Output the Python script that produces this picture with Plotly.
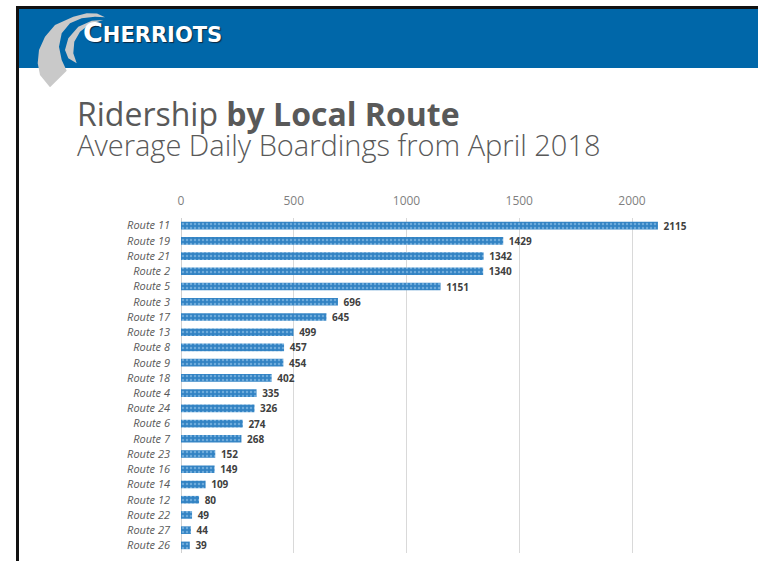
import plotly.graph_objects as go

routes = ["Route 11", "Route 19", "Route 21", "Route 2", "Route 5", "Route 3", "Route 17",
          "Route 13", "Route 8", "Route 9", "Route 18", "Route 4", "Route 24", "Route 6",
          "Route 7", "Route 23", "Route 16", "Route 14", "Route 12", "Route 22", "Route 27",
          "Route 26"]
boardings = [2115, 1429, 1342, 1340, 1151, 696, 645, 499, 457, 454, 402, 335, 326, 274,
             268, 152, 149, 109, 80, 49, 44, 39]
x_ticks = [0, 500, 1000, 1500, 2000]

W, H = 758, 561
L, R, T, B = 181, 58, 218, 8
PW, PH = W - L - R, H - T - B


def fx(px):
    return (px - L) / PW


def fy(py):
    return (H - B - py) / PH


fig = go.Figure()
fig.add_trace(go.Bar(
    x=boardings, y=routes, orientation="h",
    marker=dict(color="#3383c3", line=dict(width=0),
                pattern=dict(shape=".", fgcolor="#a8d2f2", bgcolor="#3383c3",
                             size=4, solidity=0.3)),
    text=[str(v) for v in boardings], texttemplate=" %{text}",
    textposition="outside", constraintext="none",
    textfont=dict(family="Open Sans", size=10, color="#404040", weight="bold"),
    cliponaxis=False, width=0.5,
))

shapes = [
    dict(type="rect", xref="paper", yref="paper", x0=fx(19), x1=fx(W + 2), y0=fy(9), y1=fy(68),
         fillcolor="#0067a9", line=dict(width=0), layer="above"),
    dict(type="rect", xref="paper", yref="paper", x0=fx(16), x1=fx(W + 2), y0=fy(6), y1=fy(9),
         fillcolor="#111111", line=dict(width=0), layer="above"),
    dict(type="rect", xref="paper", yref="paper", x0=fx(16), x1=fx(19), y0=fy(6), y1=fy(H + 2),
         fillcolor="#111111", line=dict(width=0), layer="above"),
]


def poly(pts):
    s = "M " + " L ".join(f"{fx(a):.5f},{fy(b):.5f}" for a, b in pts)
    return s + " Z"


outer = poly([(73.3, 16.7), (86.7, 13.3), (97, 13.5), (105, 17.3), (95, 16.7), (81.7, 18.3),
              (70, 23.3), (61.7, 33.3), (59, 46.7), (61.7, 60), (66.7, 70.7), (50, 87.3),
              (40, 75), (37.7, 63.3), (39, 50), (45, 36.7), (55, 25)])
inner = poly([(103.3, 20), (91.7, 20.7), (78.3, 26.7), (68.3, 38.3), (65, 50), (68.3, 58.3),
              (76.7, 63.3), (73.3, 53.3), (74.3, 41.7), (80, 31.7), (90, 24)])
for p in (outer, inner):
    shapes.append(dict(type="path", xref="paper", yref="paper", path=p,
                       fillcolor="#c9c9c9", line=dict(width=0), layer="above"))

annotations = [
    dict(xref="paper", yref="paper", x=fx(81), y=fy(32), xanchor="left", yanchor="middle",
         showarrow=False,
         text="<b><span style='font-size:27px'>C</span>HERRIOTS</b>",
         font=dict(family="DejaVu Sans", size=21, color="white",
                   shadow="1px 1px 1px #0b2740")),
    dict(xref="paper", yref="paper", x=fx(75), y=fy(113), xanchor="left", yanchor="middle",
         showarrow=False,
         text="Ridership <b>by Local Route</b>",
         font=dict(family="Open Sans", size=32, color="#595959")),
    dict(xref="paper", yref="paper", x=fx(75), y=fy(144), xanchor="left", yanchor="middle",
         showarrow=False,
         text="Average Daily Boardings from April 2018",
         font=dict(family="Open Sans", size=29, color="#595959", weight=300)),
]

fig.update_layout(
    width=W, height=H,
    margin=dict(l=L, r=R, t=T, b=B, pad=0),
    paper_bgcolor="white", plot_bgcolor="white",
    showlegend=False, bargap=0.5,
    shapes=shapes, annotations=annotations,
    xaxis=dict(side="top", range=[0, PW / (451 / 2000)], tickvals=x_ticks,
               showgrid=True, gridcolor="#d9d9d9", gridwidth=1, zeroline=True,
               zerolinecolor="#d0d0d0", zerolinewidth=1, showline=False, ticks="",
               tickfont=dict(family="Open Sans", size=12, color="#7f7f7f"), ticklabelstandoff=10),
    yaxis=dict(categoryorder="array", categoryarray=routes, autorange="reversed",
               showgrid=False, showline=False, ticks="", ticklabelstandoff=10,
               tickfont=dict(family="Open Sans", size=11, color="#595959", style="italic")),
)

fig.write_html("out.html", config={"displayModeBar": False},
               post_script="document.body.style.margin='0';document.body.style.padding='0';")
